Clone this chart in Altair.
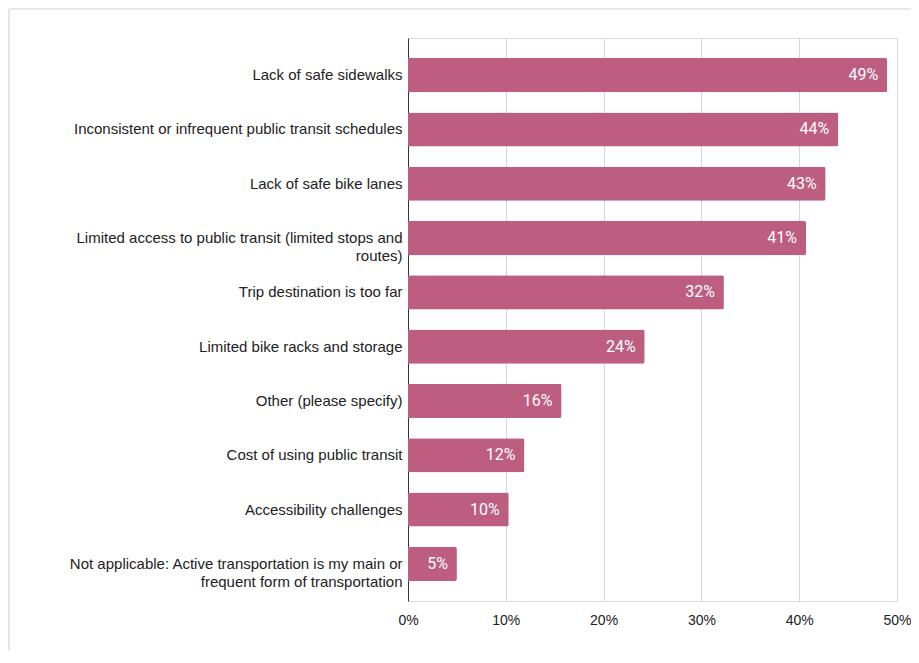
import altair as alt
import pandas as pd

categories = [
    "Lack of safe sidewalks",
    "Inconsistent or infrequent public transit schedules",
    "Lack of safe bike lanes",
    "Limited access to public transit (limited stops and\nroutes)",
    "Trip destination is too far",
    "Limited bike racks and storage",
    "Other (please specify)",
    "Cost of using public transit",
    "Accessibility challenges",
    "Not applicable: Active transportation is my main or\nfrequent form of transportation",
]
values = [0.49, 0.44, 0.427, 0.407, 0.323, 0.242, 0.157, 0.119, 0.103, 0.050]
x_ticks = [0, 0.1, 0.2, 0.3, 0.4, 0.5]

df = pd.DataFrame({"category": categories, "value": values})

W, H = 489, 563
PAD_L, PAD_T, PAD_R, PAD_B = 400, 30, 14, 50

AXIS_FONT = "Liberation Sans"

base = alt.Chart(df)

bars = base.mark_bar(color="#bd5e80", cornerRadiusEnd=2).encode(
    y=alt.Y(
        "category:N",
        sort=categories,
        title=None,
        scale=alt.Scale(paddingInner=0.37, paddingOuter=0.37),
        axis=alt.Axis(
            labelExpr="split(datum.label, '\\n')",
            labelLimit=400,
            labelPadding=6,
            ticks=False,
            domain=True,
            domainColor="#333333",
            domainWidth=1,
            grid=False,
            labelFont=AXIS_FONT,
            labelFontSize=15,
            labelColor="#222222",
            labelLineHeight=18,
        ),
    ),
    x=alt.X(
        "value:Q",
        title=None,
        scale=alt.Scale(domain=[0, 0.5], nice=False),
        axis=alt.Axis(
            values=x_ticks,
            format=".0%",
            grid=True,
            gridColor="#d6d6d6",
            gridWidth=1,
            domain=False,
            ticks=False,
            labelFlush=False,
            labelPadding=12,
            labelFont=AXIS_FONT,
            labelFontSize=14,
            labelColor="#222222",
        ),
    ),
)

labels = base.mark_text(
    align="right", baseline="middle", dx=-9, color="white",
    font="Roboto", fontSize=16,
).encode(
    y=alt.Y("category:N", sort=categories),
    x="value:Q",
    text=alt.Text("value:Q", format=".0%"),
)

frame_df = pd.DataFrame({"a": [0]})
frame_top = alt.Chart(frame_df).mark_rule(color="#e0e0e0", strokeWidth=1.5).encode(
    x=alt.value(-399), x2=alt.value(W + PAD_R), y=alt.value(-29),
)
frame_left = alt.Chart(frame_df).mark_rule(color="#e6e6e6", strokeWidth=2).encode(
    x=alt.value(-399), y=alt.value(-29), y2=alt.value(H + PAD_B),
)

chart = alt.layer(frame_top, frame_left, bars, labels).properties(
    width=W, height=H,
    autosize=alt.AutoSizeParams(type="none"),
    padding={"left": PAD_L, "top": PAD_T, "right": PAD_R, "bottom": PAD_B},
).configure_view(stroke=None).configure(background="white")

chart.save("out.html", embed_options={"renderer": "svg", "actions": False})
